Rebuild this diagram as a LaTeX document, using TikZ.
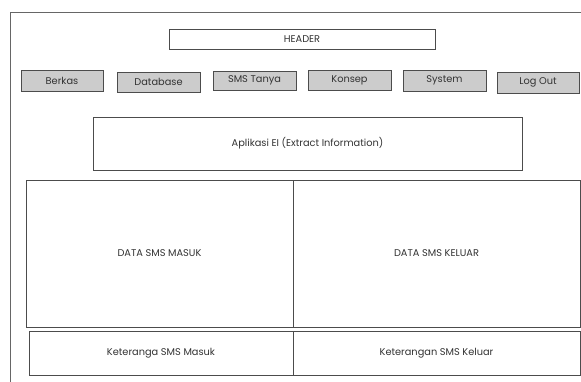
\documentclass[tikz,border=0pt]{standalone}
\usepackage{fontspec}
\setmainfont{Poppins}
\begin{document}
\begin{tikzpicture}[x=1pt,y=-1pt,
  every node/.style={font=\fontsize{9.8}{11}\selectfont, text=black!80},
  box/.style={draw=black!70, line width=0.8pt, fill=white, inner sep=0pt, outer sep=0pt},
  btn/.style={box, fill=black!20},
  frameline/.style={draw=black!60, line width=0.8pt}]
\useasboundingbox (0,0) rectangle (581,381);
\clip (0,0) rectangle (581,381);
\fill[white] (0,0) rectangle (581,381);
\coordinate (fTL) at (10,12);
\coordinate (fBR) at (595,395);
\draw[frameline] (fTL) rectangle (fBR);
\node[box, minimum width=266, minimum height=20] (header) at (302,39) {HEADER};
\node[btn, minimum width=82, minimum height=21] (berkas) at (62,80.5) {Berkas};
\node[btn, minimum width=83, minimum height=20] (database) at (158.5,82) {Database};
\node[btn, minimum width=83, minimum height=19] (smstanya) at (254.5,80.5) {SMS Tanya};
\node[btn, minimum width=83, minimum height=20] (konsep) at (349.5,80) {Konsep};
\node[btn, minimum width=83, minimum height=21] (system) at (444.5,80.5) {System};
\node[btn, minimum width=82, minimum height=21] (logout) at (538,82.5) {Log Out};
\node[box, minimum width=429, minimum height=53] (aplikasi) at (307.5,143.5) {Aplikasi EI (Extract Information)};
\node[box, minimum width=267, minimum height=147] (masuk) at (159.5,253.5) {DATA SMS MASUK};
\node[box, minimum width=287, minimum height=147] (keluar) at (436.5,253.5) {DATA SMS KELUAR};
\node[box, minimum width=264, minimum height=44] (ketmasuk) at (161,353) {Keteranga SMS Masuk};
\node[box, minimum width=287, minimum height=44] (ketkeluar) at (436.5,353) {Keterangan SMS Keluar};
\end{tikzpicture}
\end{document}
